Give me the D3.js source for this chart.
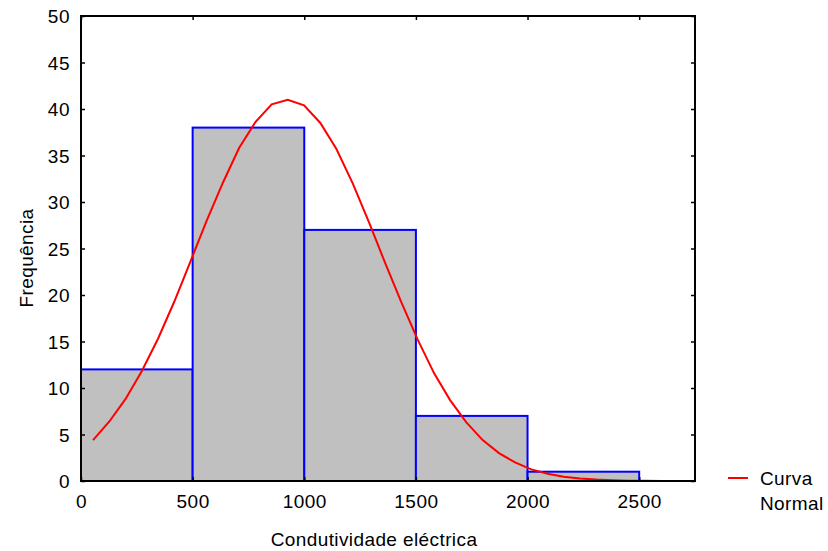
<!DOCTYPE html>
<html lang="pt">
<head>
    <meta charset="UTF-8">
    <title>Histograma - Condutividade eléctrica</title>
    <script src="https://d3js.org/d3.v7.min.js"></script>
    <style>
        body { margin: 0; background: #fff; font-family: Arial, "Liberation Sans", sans-serif; }
        svg { display: block; }
        .tick text { font-size: 19px; letter-spacing: 0.5px; font-family: Arial, "Liberation Sans", sans-serif; fill: #000; }
        .label { font-size: 19px; letter-spacing: 0.4px; fill: #000; }
    </style>
</head>
<body>
<div class="viz"></div>
<script>
    // histogram bins (lower edge, upper edge) and counts
    const binStarts = [0, 500, 1000, 1500, 2000];
    const binEnds = [500, 1000, 1500, 2000, 2500];
    const counts = [12, 38, 27, 7, 1];

    // fitted normal curve
    const curveX = [54, 127, 199, 272, 345, 418, 490, 563, 636, 708, 781, 854, 926,
        999, 1072, 1144, 1217, 1290, 1363, 1435, 1508, 1581, 1653, 1726, 1799, 1872,
        1944, 2017, 2090, 2162, 2235, 2308, 2381, 2453, 2526, 2599, 2671, 2744];
    const curveY = [4.4, 6.4, 8.8, 11.8, 15.3, 19.3, 23.6, 28.0, 32.1, 35.8, 38.6, 40.5, 41.0,
        40.4, 38.5, 35.7, 32.0, 27.8, 23.4, 19.2, 15.2, 11.6, 8.7, 6.3, 4.4, 3.0,
        2.0, 1.25, 0.77, 0.46, 0.27, 0.15, 0.08, 0.04, 0.02, 0.01, 0.005, 0];

    const xTicks = [0, 500, 1000, 1500, 2000, 2500];
    const yTicks = [0, 5, 10, 15, 20, 25, 30, 35, 40, 45, 50];

    const width = 828, height = 551;
    const margin = { left: 81, top: 16, right: 133, bottom: 70 };
    const innerW = width - margin.left - margin.right;
    const innerH = height - margin.top - margin.bottom;

    const svg = d3.select('.viz').append('svg')
        .attr('width', width)
        .attr('height', height);

    const x = d3.scaleLinear().domain([0, 2750]).range([0, innerW]);
    const y = d3.scaleLinear().domain([0, 50]).range([innerH, 0]);

    const g = svg.append('g').attr('transform', `translate(${margin.left},${margin.top})`);

    // bars
    g.selectAll('rect.bar')
        .data(counts)
        .enter().append('rect')
        .attr('class', 'bar')
        .attr('x', (d, i) => x(binStarts[i]))
        .attr('y', d => y(d))
        .attr('width', (d, i) => x(binEnds[i]) - x(binStarts[i]))
        .attr('height', d => innerH - y(d))
        .attr('fill', '#c0c0c0')
        .attr('stroke', '#0000ff')
        .attr('stroke-width', 2);

    // normal curve
    const line = d3.line()
        .x((d, i) => x(curveX[i]))
        .y(d => y(d));
    g.append('path')
        .datum(curveY)
        .attr('d', line)
        .attr('fill', 'none')
        .attr('stroke', '#ff0000')
        .attr('stroke-width', 2);

    // axes, ticks pointing inward on all four sides
    const axBottom = g.append('g')
        .attr('transform', `translate(0,${innerH})`)
        .call(d3.axisBottom(x).tickValues(xTicks).tickSize(-4).tickPadding(14).tickFormat(d3.format('d')));
    const axLeft = g.append('g')
        .call(d3.axisLeft(y).tickValues(yTicks).tickSize(-4).tickPadding(11));
    const axTop = g.append('g')
        .call(d3.axisTop(x).tickValues(xTicks).tickSize(-4).tickFormat(''));
    const axRight = g.append('g')
        .attr('transform', `translate(${innerW},0)`)
        .call(d3.axisRight(y).tickValues(yTicks).tickSize(-4).tickFormat(''));

    [axBottom, axLeft, axTop, axRight].forEach(a => {
        a.select('.domain').remove();
        a.selectAll('.tick line').attr('stroke', '#000').attr('stroke-width', 1.5);
    });
    axBottom.selectAll('.tick text').attr('dy', '0.71em');
    axLeft.selectAll('.tick text').attr('dy', '0.36em');

    // frame
    g.append('rect')
        .attr('width', innerW)
        .attr('height', innerH)
        .attr('fill', 'none')
        .attr('stroke', '#000')
        .attr('stroke-width', 2);

    // axis titles
    svg.append('text')
        .attr('class', 'label')
        .attr('x', 374)
        .attr('y', 546)
        .attr('text-anchor', 'middle')
        .text('Condutividade eléctrica');

    svg.append('text')
        .attr('class', 'label')
        .attr('transform', `translate(33,258) rotate(-90)`)
        .attr('text-anchor', 'middle')
        .text('Frequência');

    // legend
    const legend = svg.append('g').attr('transform', 'translate(728,478)');
    legend.append('line')
        .attr('x1', 0).attr('x2', 20)
        .attr('y1', 0).attr('y2', 0)
        .attr('stroke', '#ff0000')
        .attr('stroke-width', 2);
    legend.append('text')
        .attr('class', 'label')
        .attr('x', 32).attr('y', 7)
        .text('Curva');
    legend.append('text')
        .attr('class', 'label')
        .attr('x', 32).attr('y', 32)
        .text('Normal');
</script>
</body>
</html>
